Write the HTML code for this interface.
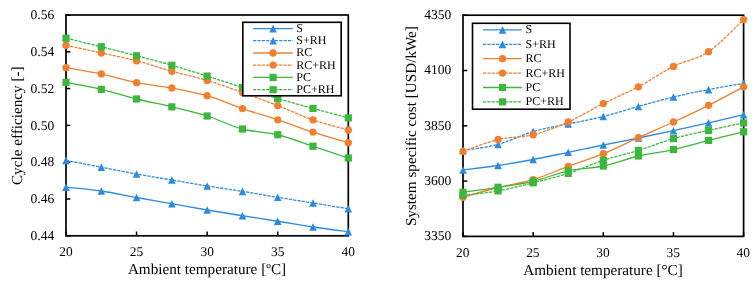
<!DOCTYPE html>
<html><head><meta charset="utf-8"><title>chart</title>
<style>
html,body{margin:0;padding:0;background:#fff;}
body{width:756px;height:284px;overflow:hidden;}
svg{display:block;will-change:transform;filter:blur(0.35px);}
svg text{font-family:"Liberation Serif",serif;fill:#000;text-rendering:geometricPrecision;}
</style></head><body>
<svg width="756" height="284" viewBox="0 0 756 284">
<rect width="756" height="284" fill="#fff"/>
<g>
<rect x="66" y="15" width="282.3" height="220.8" fill="none" stroke="#000" stroke-width="1.7"/>
<line x1="66.00" y1="235.8" x2="66.00" y2="231.5" stroke="#000" stroke-width="1.5"/>
<text x="66.00" y="255.9" font-size="13.4" text-anchor="middle">20</text>
<line x1="136.57" y1="235.8" x2="136.57" y2="231.5" stroke="#000" stroke-width="1.5"/>
<text x="136.57" y="255.9" font-size="13.4" text-anchor="middle">25</text>
<line x1="207.15" y1="235.8" x2="207.15" y2="231.5" stroke="#000" stroke-width="1.5"/>
<text x="207.15" y="255.9" font-size="13.4" text-anchor="middle">30</text>
<line x1="277.73" y1="235.8" x2="277.73" y2="231.5" stroke="#000" stroke-width="1.5"/>
<text x="277.73" y="255.9" font-size="13.4" text-anchor="middle">35</text>
<line x1="348.30" y1="235.8" x2="348.30" y2="231.5" stroke="#000" stroke-width="1.5"/>
<text x="348.30" y="255.9" font-size="13.4" text-anchor="middle">40</text>
<line x1="66" y1="15.00" x2="70.3" y2="15.00" stroke="#000" stroke-width="1.5"/>
<text x="54.2" y="19.20" font-size="13.55" text-anchor="end">0.56</text>
<line x1="66" y1="51.80" x2="70.3" y2="51.80" stroke="#000" stroke-width="1.5"/>
<text x="54.2" y="56.00" font-size="13.55" text-anchor="end">0.54</text>
<line x1="66" y1="88.60" x2="70.3" y2="88.60" stroke="#000" stroke-width="1.5"/>
<text x="54.2" y="92.80" font-size="13.55" text-anchor="end">0.52</text>
<line x1="66" y1="125.40" x2="70.3" y2="125.40" stroke="#000" stroke-width="1.5"/>
<text x="54.2" y="129.60" font-size="13.55" text-anchor="end">0.50</text>
<line x1="66" y1="162.20" x2="70.3" y2="162.20" stroke="#000" stroke-width="1.5"/>
<text x="54.2" y="166.40" font-size="13.55" text-anchor="end">0.48</text>
<line x1="66" y1="199.00" x2="70.3" y2="199.00" stroke="#000" stroke-width="1.5"/>
<text x="54.2" y="203.20" font-size="13.55" text-anchor="end">0.46</text>
<line x1="66" y1="235.80" x2="70.3" y2="235.80" stroke="#000" stroke-width="1.5"/>
<text x="54.2" y="240.00" font-size="13.55" text-anchor="end">0.44</text>
<path d="M66.00,187.30 C71.88,187.92 89.52,189.30 101.29,191.00 C113.05,192.70 124.81,195.38 136.57,197.50 C148.34,199.62 160.10,201.62 171.86,203.70 C183.62,205.78 195.39,207.99 207.15,210.00 C218.91,212.01 230.68,213.88 242.44,215.75 C254.20,217.62 265.96,219.38 277.73,221.25 C289.49,223.12 301.25,225.25 313.01,227.00 C324.78,228.75 342.42,230.96 348.30,231.75" fill="none" stroke="#2b8be0" stroke-width="1.3"/><polygon points="66.00,183.50 69.80,191.10 62.20,191.10" fill="#2b8be0"/><polygon points="101.29,187.20 105.09,194.80 97.49,194.80" fill="#2b8be0"/><polygon points="136.57,193.70 140.38,201.30 132.77,201.30" fill="#2b8be0"/><polygon points="171.86,199.90 175.66,207.50 168.06,207.50" fill="#2b8be0"/><polygon points="207.15,206.20 210.95,213.80 203.35,213.80" fill="#2b8be0"/><polygon points="242.44,211.95 246.24,219.55 238.64,219.55" fill="#2b8be0"/><polygon points="277.73,217.45 281.53,225.05 273.93,225.05" fill="#2b8be0"/><polygon points="313.01,223.20 316.81,230.80 309.21,230.80" fill="#2b8be0"/><polygon points="348.30,227.95 352.10,235.55 344.50,235.55" fill="#2b8be0"/>
<path d="M66.00,160.40 C71.88,161.53 89.52,164.93 101.29,167.20 C113.05,169.47 124.81,171.87 136.57,174.00 C148.34,176.13 160.10,178.00 171.86,180.00 C183.62,182.00 195.39,184.10 207.15,186.00 C218.91,187.90 230.68,189.52 242.44,191.40 C254.20,193.28 265.96,195.37 277.73,197.30 C289.49,199.23 301.25,201.09 313.01,203.00 C324.78,204.91 342.42,207.79 348.30,208.75" fill="none" stroke="#2b8be0" stroke-width="1.3" stroke-dasharray="3.2 1.15"/><polygon points="66.00,156.60 69.80,164.20 62.20,164.20" fill="#2b8be0"/><polygon points="101.29,163.40 105.09,171.00 97.49,171.00" fill="#2b8be0"/><polygon points="136.57,170.20 140.38,177.80 132.77,177.80" fill="#2b8be0"/><polygon points="171.86,176.20 175.66,183.80 168.06,183.80" fill="#2b8be0"/><polygon points="207.15,182.20 210.95,189.80 203.35,189.80" fill="#2b8be0"/><polygon points="242.44,187.60 246.24,195.20 238.64,195.20" fill="#2b8be0"/><polygon points="277.73,193.50 281.53,201.10 273.93,201.10" fill="#2b8be0"/><polygon points="313.01,199.20 316.81,206.80 309.21,206.80" fill="#2b8be0"/><polygon points="348.30,204.95 352.10,212.55 344.50,212.55" fill="#2b8be0"/>
<path d="M66.00,67.70 C71.88,68.73 89.52,71.41 101.29,73.90 C113.05,76.39 124.81,80.30 136.57,82.65 C148.34,85.00 160.10,85.83 171.86,88.00 C183.62,90.17 195.39,92.28 207.15,95.70 C218.91,99.12 230.68,104.53 242.44,108.55 C254.20,112.57 265.96,115.92 277.73,119.85 C289.49,123.77 301.25,128.28 313.01,132.10 C324.78,135.92 342.42,140.97 348.30,142.75" fill="none" stroke="#f07f2e" stroke-width="1.3"/><circle cx="66.00" cy="67.70" r="3.65" fill="#f07f2e"/><circle cx="101.29" cy="73.90" r="3.65" fill="#f07f2e"/><circle cx="136.57" cy="82.65" r="3.65" fill="#f07f2e"/><circle cx="171.86" cy="88.00" r="3.65" fill="#f07f2e"/><circle cx="207.15" cy="95.70" r="3.65" fill="#f07f2e"/><circle cx="242.44" cy="108.55" r="3.65" fill="#f07f2e"/><circle cx="277.73" cy="119.85" r="3.65" fill="#f07f2e"/><circle cx="313.01" cy="132.10" r="3.65" fill="#f07f2e"/><circle cx="348.30" cy="142.75" r="3.65" fill="#f07f2e"/>
<path d="M66.00,45.25 C71.88,46.54 89.52,50.42 101.29,53.00 C113.05,55.58 124.81,57.71 136.57,60.75 C148.34,63.79 160.10,67.97 171.86,71.25 C183.62,74.53 195.39,76.86 207.15,80.40 C218.91,83.94 230.68,88.30 242.44,92.50 C254.20,96.70 265.96,101.04 277.73,105.60 C289.49,110.16 301.25,115.78 313.01,119.85 C324.78,123.92 342.42,128.31 348.30,130.00" fill="none" stroke="#f07f2e" stroke-width="1.3" stroke-dasharray="3.2 1.15"/><circle cx="66.00" cy="45.25" r="3.65" fill="#f07f2e"/><circle cx="101.29" cy="53.00" r="3.65" fill="#f07f2e"/><circle cx="136.57" cy="60.75" r="3.65" fill="#f07f2e"/><circle cx="171.86" cy="71.25" r="3.65" fill="#f07f2e"/><circle cx="207.15" cy="80.40" r="3.65" fill="#f07f2e"/><circle cx="242.44" cy="92.50" r="3.65" fill="#f07f2e"/><circle cx="277.73" cy="105.60" r="3.65" fill="#f07f2e"/><circle cx="313.01" cy="119.85" r="3.65" fill="#f07f2e"/><circle cx="348.30" cy="130.00" r="3.65" fill="#f07f2e"/>
<path d="M66.00,82.35 C71.88,83.52 89.52,86.57 101.29,89.35 C113.05,92.12 124.81,96.08 136.57,99.00 C148.34,101.92 160.10,104.07 171.86,106.90 C183.62,109.73 195.39,112.32 207.15,116.00 C218.91,119.68 230.68,125.88 242.44,129.00 C254.20,132.12 265.96,131.88 277.73,134.75 C289.49,137.62 301.25,142.38 313.01,146.25 C324.78,150.12 342.42,156.04 348.30,158.00" fill="none" stroke="#3cb73c" stroke-width="1.3"/><rect x="62.40" y="78.75" width="7.20" height="7.20" fill="#3cb73c"/><rect x="97.69" y="85.75" width="7.20" height="7.20" fill="#3cb73c"/><rect x="132.97" y="95.40" width="7.20" height="7.20" fill="#3cb73c"/><rect x="168.26" y="103.30" width="7.20" height="7.20" fill="#3cb73c"/><rect x="203.55" y="112.40" width="7.20" height="7.20" fill="#3cb73c"/><rect x="238.84" y="125.40" width="7.20" height="7.20" fill="#3cb73c"/><rect x="274.12" y="131.15" width="7.20" height="7.20" fill="#3cb73c"/><rect x="309.41" y="142.65" width="7.20" height="7.20" fill="#3cb73c"/><rect x="344.70" y="154.40" width="7.20" height="7.20" fill="#3cb73c"/>
<path d="M66.00,38.25 C71.88,39.67 89.52,43.83 101.29,46.75 C113.05,49.67 124.81,52.67 136.57,55.75 C148.34,58.83 160.10,61.86 171.86,65.25 C183.62,68.64 195.39,72.39 207.15,76.10 C218.91,79.81 230.68,83.75 242.44,87.50 C254.20,91.25 265.96,95.12 277.73,98.60 C289.49,102.08 301.25,105.18 313.01,108.40 C324.78,111.62 342.42,116.32 348.30,117.90" fill="none" stroke="#3cb73c" stroke-width="1.3" stroke-dasharray="3.2 1.15"/><rect x="62.40" y="34.65" width="7.20" height="7.20" fill="#3cb73c"/><rect x="97.69" y="43.15" width="7.20" height="7.20" fill="#3cb73c"/><rect x="132.97" y="52.15" width="7.20" height="7.20" fill="#3cb73c"/><rect x="168.26" y="61.65" width="7.20" height="7.20" fill="#3cb73c"/><rect x="203.55" y="72.50" width="7.20" height="7.20" fill="#3cb73c"/><rect x="238.84" y="83.90" width="7.20" height="7.20" fill="#3cb73c"/><rect x="274.12" y="95.00" width="7.20" height="7.20" fill="#3cb73c"/><rect x="309.41" y="104.80" width="7.20" height="7.20" fill="#3cb73c"/><rect x="344.70" y="114.30" width="7.20" height="7.20" fill="#3cb73c"/>
<rect x="242.8" y="22.3" width="98.39999999999998" height="73.5" fill="#fff" stroke="#000" stroke-width="1.6"/>
<line x1="253.1" y1="28.6" x2="292.8" y2="28.6" stroke="#2b8be0" stroke-width="1.3"/>
<polygon points="273.10,24.80 276.90,32.40 269.30,32.40" fill="#2b8be0"/>
<text x="296.3" y="32.00" font-size="12">S</text>
<line x1="253.1" y1="40.7" x2="292.8" y2="40.7" stroke="#2b8be0" stroke-width="1.3" stroke-dasharray="3.2 1.15"/>
<polygon points="273.10,36.90 276.90,44.50 269.30,44.50" fill="#2b8be0"/>
<text x="296.3" y="44.10" font-size="12">S+RH</text>
<line x1="253.1" y1="53" x2="292.8" y2="53" stroke="#f07f2e" stroke-width="1.3"/>
<circle cx="273.10" cy="53.00" r="3.65" fill="#f07f2e"/>
<text x="296.3" y="56.40" font-size="12">RC</text>
<line x1="253.1" y1="65.1" x2="292.8" y2="65.1" stroke="#f07f2e" stroke-width="1.3" stroke-dasharray="3.2 1.15"/>
<circle cx="273.10" cy="65.10" r="3.65" fill="#f07f2e"/>
<text x="296.3" y="68.50" font-size="12">RC+RH</text>
<line x1="253.1" y1="77.4" x2="292.8" y2="77.4" stroke="#3cb73c" stroke-width="1.3"/>
<rect x="269.50" y="73.80" width="7.20" height="7.20" fill="#3cb73c"/>
<text x="296.3" y="80.80" font-size="12">PC</text>
<line x1="253.1" y1="89.7" x2="292.8" y2="89.7" stroke="#3cb73c" stroke-width="1.3" stroke-dasharray="3.2 1.15"/>
<rect x="269.50" y="86.10" width="7.20" height="7.20" fill="#3cb73c"/>
<text x="296.3" y="93.10" font-size="12">PC+RH</text>
<text transform="translate(22.1,125.7) rotate(-90)" font-size="15.2" text-anchor="middle">Cycle efficiency [-]</text>
<text x="207" y="274.25" font-size="15.2" text-anchor="middle">Ambient temperature [ºC]</text>
</g>
<g>
<rect x="463" y="15.2" width="280.6" height="221.20000000000002" fill="none" stroke="#000" stroke-width="1.7"/>
<line x1="463.00" y1="236.4" x2="463.00" y2="232.1" stroke="#000" stroke-width="1.5"/>
<text x="462.70" y="256.5" font-size="13.4" text-anchor="middle">20</text>
<line x1="533.15" y1="236.4" x2="533.15" y2="232.1" stroke="#000" stroke-width="1.5"/>
<text x="532.85" y="256.5" font-size="13.4" text-anchor="middle">25</text>
<line x1="603.30" y1="236.4" x2="603.30" y2="232.1" stroke="#000" stroke-width="1.5"/>
<text x="603.00" y="256.5" font-size="13.4" text-anchor="middle">30</text>
<line x1="673.45" y1="236.4" x2="673.45" y2="232.1" stroke="#000" stroke-width="1.5"/>
<text x="673.15" y="256.5" font-size="13.4" text-anchor="middle">35</text>
<line x1="743.60" y1="236.4" x2="743.60" y2="232.1" stroke="#000" stroke-width="1.5"/>
<text x="743.30" y="256.5" font-size="13.4" text-anchor="middle">40</text>
<line x1="463" y1="15.20" x2="467.3" y2="15.20" stroke="#000" stroke-width="1.5"/>
<text x="451.3" y="19.00" font-size="13.55" text-anchor="end">4350</text>
<line x1="463" y1="70.50" x2="467.3" y2="70.50" stroke="#000" stroke-width="1.5"/>
<text x="451.3" y="74.30" font-size="13.55" text-anchor="end">4100</text>
<line x1="463" y1="125.80" x2="467.3" y2="125.80" stroke="#000" stroke-width="1.5"/>
<text x="451.3" y="129.60" font-size="13.55" text-anchor="end">3850</text>
<line x1="463" y1="181.10" x2="467.3" y2="181.10" stroke="#000" stroke-width="1.5"/>
<text x="451.3" y="184.90" font-size="13.55" text-anchor="end">3600</text>
<line x1="463" y1="236.40" x2="467.3" y2="236.40" stroke="#000" stroke-width="1.5"/>
<text x="451.3" y="240.20" font-size="13.55" text-anchor="end">3350</text>
<path d="M463.00,170.00 C468.85,169.25 486.38,167.25 498.07,165.50 C509.77,163.75 521.46,161.70 533.15,159.50 C544.84,157.30 556.53,154.72 568.23,152.30 C579.92,149.88 591.61,147.38 603.30,145.00 C614.99,142.62 626.68,140.38 638.38,138.00 C650.07,135.62 661.76,133.22 673.45,130.70 C685.14,128.18 696.83,125.57 708.53,122.90 C720.22,120.23 737.75,116.07 743.60,114.70" fill="none" stroke="#2b8be0" stroke-width="1.3"/><polygon points="463.00,166.20 466.80,173.80 459.20,173.80" fill="#2b8be0"/><polygon points="498.07,161.70 501.88,169.30 494.27,169.30" fill="#2b8be0"/><polygon points="533.15,155.70 536.95,163.30 529.35,163.30" fill="#2b8be0"/><polygon points="568.23,148.50 572.02,156.10 564.43,156.10" fill="#2b8be0"/><polygon points="603.30,141.20 607.10,148.80 599.50,148.80" fill="#2b8be0"/><polygon points="638.38,134.20 642.17,141.80 634.58,141.80" fill="#2b8be0"/><polygon points="673.45,126.90 677.25,134.50 669.65,134.50" fill="#2b8be0"/><polygon points="708.53,119.10 712.33,126.70 704.73,126.70" fill="#2b8be0"/><polygon points="743.60,110.90 747.40,118.50 739.80,118.50" fill="#2b8be0"/>
<path d="M463.00,150.40 C468.85,149.42 486.38,147.65 498.07,144.50 C509.77,141.35 521.46,134.92 533.15,131.50 C544.84,128.08 556.53,126.50 568.23,124.00 C579.92,121.50 591.61,119.42 603.30,116.50 C614.99,113.58 626.68,109.75 638.38,106.50 C650.07,103.25 661.76,99.82 673.45,97.00 C685.14,94.18 696.83,91.87 708.53,89.60 C720.22,87.33 737.75,84.43 743.60,83.40" fill="none" stroke="#2b8be0" stroke-width="1.3" stroke-dasharray="3.2 1.15"/><polygon points="463.00,146.60 466.80,154.20 459.20,154.20" fill="#2b8be0"/><polygon points="498.07,140.70 501.88,148.30 494.27,148.30" fill="#2b8be0"/><polygon points="533.15,127.70 536.95,135.30 529.35,135.30" fill="#2b8be0"/><polygon points="568.23,120.20 572.02,127.80 564.43,127.80" fill="#2b8be0"/><polygon points="603.30,112.70 607.10,120.30 599.50,120.30" fill="#2b8be0"/><polygon points="638.38,102.70 642.17,110.30 634.58,110.30" fill="#2b8be0"/><polygon points="673.45,93.20 677.25,100.80 669.65,100.80" fill="#2b8be0"/><polygon points="708.53,85.80 712.33,93.40 704.73,93.40" fill="#2b8be0"/><polygon points="743.60,79.60 747.40,87.20 739.80,87.20" fill="#2b8be0"/>
<path d="M463.00,197.30 C468.85,195.67 486.38,190.43 498.07,187.50 C509.77,184.57 521.46,183.22 533.15,179.70 C544.84,176.18 556.53,170.73 568.23,166.40 C579.92,162.07 591.61,158.50 603.30,153.70 C614.99,148.90 626.68,142.88 638.38,137.60 C650.07,132.32 661.76,127.38 673.45,122.00 C685.14,116.62 696.83,111.17 708.53,105.30 C720.22,99.43 737.75,89.88 743.60,86.80" fill="none" stroke="#f07f2e" stroke-width="1.3"/><circle cx="463.00" cy="197.30" r="3.65" fill="#f07f2e"/><circle cx="498.07" cy="187.50" r="3.65" fill="#f07f2e"/><circle cx="533.15" cy="179.70" r="3.65" fill="#f07f2e"/><circle cx="568.23" cy="166.40" r="3.65" fill="#f07f2e"/><circle cx="603.30" cy="153.70" r="3.65" fill="#f07f2e"/><circle cx="638.38" cy="137.60" r="3.65" fill="#f07f2e"/><circle cx="673.45" cy="122.00" r="3.65" fill="#f07f2e"/><circle cx="708.53" cy="105.30" r="3.65" fill="#f07f2e"/><circle cx="743.60" cy="86.80" r="3.65" fill="#f07f2e"/>
<path d="M463.00,151.40 C468.85,149.42 486.38,142.28 498.07,139.50 C509.77,136.72 521.46,137.67 533.15,134.75 C544.84,131.83 556.53,127.20 568.23,122.00 C579.92,116.80 591.61,109.42 603.30,103.55 C614.99,97.68 626.68,92.99 638.38,86.80 C650.07,80.61 661.76,72.25 673.45,66.40 C685.14,60.55 696.83,59.50 708.53,51.70 C720.22,43.90 737.75,24.95 743.60,19.60" fill="none" stroke="#f07f2e" stroke-width="1.3" stroke-dasharray="3.2 1.15"/><circle cx="463.00" cy="151.40" r="3.65" fill="#f07f2e"/><circle cx="498.07" cy="139.50" r="3.65" fill="#f07f2e"/><circle cx="533.15" cy="134.75" r="3.65" fill="#f07f2e"/><circle cx="568.23" cy="122.00" r="3.65" fill="#f07f2e"/><circle cx="603.30" cy="103.55" r="3.65" fill="#f07f2e"/><circle cx="638.38" cy="86.80" r="3.65" fill="#f07f2e"/><circle cx="673.45" cy="66.40" r="3.65" fill="#f07f2e"/><circle cx="708.53" cy="51.70" r="3.65" fill="#f07f2e"/><circle cx="743.60" cy="19.60" r="3.65" fill="#f07f2e"/>
<path d="M463.00,192.30 C468.85,191.47 486.38,189.13 498.07,187.30 C509.77,185.47 521.46,184.03 533.15,181.30 C544.84,178.57 556.53,173.45 568.23,170.90 C579.92,168.35 591.61,168.48 603.30,166.00 C614.99,163.52 626.68,158.74 638.38,156.00 C650.07,153.26 661.76,152.15 673.45,149.55 C685.14,146.95 696.83,143.36 708.53,140.40 C720.22,137.44 737.75,133.23 743.60,131.80" fill="none" stroke="#3cb73c" stroke-width="1.3"/><rect x="459.40" y="188.70" width="7.20" height="7.20" fill="#3cb73c"/><rect x="494.47" y="183.70" width="7.20" height="7.20" fill="#3cb73c"/><rect x="529.55" y="177.70" width="7.20" height="7.20" fill="#3cb73c"/><rect x="564.62" y="167.30" width="7.20" height="7.20" fill="#3cb73c"/><rect x="599.70" y="162.40" width="7.20" height="7.20" fill="#3cb73c"/><rect x="634.77" y="152.40" width="7.20" height="7.20" fill="#3cb73c"/><rect x="669.85" y="145.95" width="7.20" height="7.20" fill="#3cb73c"/><rect x="704.93" y="136.80" width="7.20" height="7.20" fill="#3cb73c"/><rect x="740.00" y="128.20" width="7.20" height="7.20" fill="#3cb73c"/>
<path d="M463.00,195.30 C468.85,194.57 486.38,192.98 498.07,190.90 C509.77,188.82 521.46,185.72 533.15,182.80 C544.84,179.88 556.53,177.15 568.23,173.40 C579.92,169.65 591.61,164.13 603.30,160.30 C614.99,156.47 626.68,154.02 638.38,150.40 C650.07,146.78 661.76,141.93 673.45,138.60 C685.14,135.27 696.83,133.02 708.53,130.40 C720.22,127.78 737.75,124.15 743.60,122.90" fill="none" stroke="#3cb73c" stroke-width="1.3" stroke-dasharray="3.2 1.15"/><rect x="459.40" y="191.70" width="7.20" height="7.20" fill="#3cb73c"/><rect x="494.47" y="187.30" width="7.20" height="7.20" fill="#3cb73c"/><rect x="529.55" y="179.20" width="7.20" height="7.20" fill="#3cb73c"/><rect x="564.62" y="169.80" width="7.20" height="7.20" fill="#3cb73c"/><rect x="599.70" y="156.70" width="7.20" height="7.20" fill="#3cb73c"/><rect x="634.77" y="146.80" width="7.20" height="7.20" fill="#3cb73c"/><rect x="669.85" y="135.00" width="7.20" height="7.20" fill="#3cb73c"/><rect x="704.93" y="126.80" width="7.20" height="7.20" fill="#3cb73c"/><rect x="740.00" y="119.30" width="7.20" height="7.20" fill="#3cb73c"/>
<rect x="472.5" y="23.3" width="97.5" height="85.9" fill="#fff" stroke="#000" stroke-width="1.6"/>
<line x1="483" y1="29.9" x2="521.9" y2="29.9" stroke="#2b8be0" stroke-width="1.3"/>
<polygon points="502.50,26.10 506.30,33.70 498.70,33.70" fill="#2b8be0"/>
<text x="525.6" y="33.30" font-size="12">S</text>
<line x1="483" y1="44.35" x2="521.9" y2="44.35" stroke="#2b8be0" stroke-width="1.3" stroke-dasharray="3.2 1.15"/>
<polygon points="502.50,40.55 506.30,48.15 498.70,48.15" fill="#2b8be0"/>
<text x="525.6" y="47.75" font-size="12">S+RH</text>
<line x1="483" y1="58.7" x2="521.9" y2="58.7" stroke="#f07f2e" stroke-width="1.3"/>
<circle cx="502.50" cy="58.70" r="3.65" fill="#f07f2e"/>
<text x="525.6" y="62.10" font-size="12">RC</text>
<line x1="483" y1="73.1" x2="521.9" y2="73.1" stroke="#f07f2e" stroke-width="1.3" stroke-dasharray="3.2 1.15"/>
<circle cx="502.50" cy="73.10" r="3.65" fill="#f07f2e"/>
<text x="525.6" y="76.50" font-size="12">RC+RH</text>
<line x1="483" y1="87.5" x2="521.9" y2="87.5" stroke="#3cb73c" stroke-width="1.3"/>
<rect x="498.90" y="83.90" width="7.20" height="7.20" fill="#3cb73c"/>
<text x="525.6" y="90.90" font-size="12">PC</text>
<line x1="483" y1="101.85" x2="521.9" y2="101.85" stroke="#3cb73c" stroke-width="1.3" stroke-dasharray="3.2 1.15"/>
<rect x="498.90" y="98.25" width="7.20" height="7.20" fill="#3cb73c"/>
<text x="525.6" y="105.25" font-size="12">PC+RH</text>
<text transform="translate(416.0,126.1) rotate(-90)" font-size="15.2" text-anchor="middle">System specific cost [USD/kWe]</text>
<text x="603" y="275.4" font-size="15.2" text-anchor="middle">Ambient temperature [°C]</text>
</g>
</svg>
</body></html>
